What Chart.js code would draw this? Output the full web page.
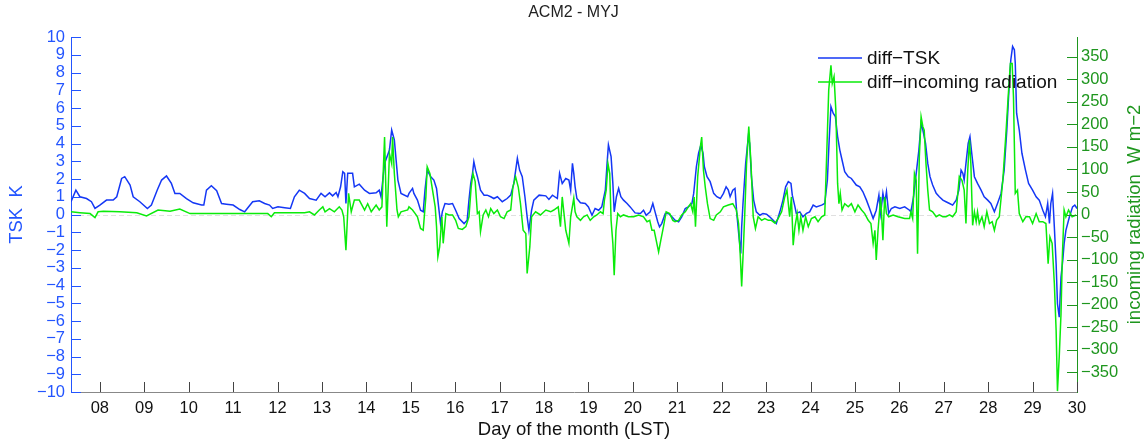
<!DOCTYPE html>
<html>
<head>
<meta charset="utf-8">
<title>ACM2 - MYJ</title>
<script src="https://cdn.jsdelivr.net/npm/chart.js@4.4.1/dist/chart.umd.min.js"></script>
<style>
  html, body { margin: 0; padding: 0; background: #fff; }
  #wrap { width: 1147px; height: 442px; }
</style>
</head>
<body>
<div id="wrap"><canvas id="g1" width="1147" height="442"></canvas></div>
<script>
// [day of month (LST), ACM2 minus MYJ skin temperature, K]
var tskDiff = [
  [7.35,0.72],[7.46,1.37],[7.55,1.00],[7.70,0.90],[7.81,0.72],[7.89,0.34],[8.00,0.53],[8.15,0.81],
  [8.30,0.81],[8.38,1.00],[8.49,2.03],[8.56,2.13],[8.68,1.66],[8.75,1.00],[8.90,0.72],[9.07,0.34],
  [9.16,0.53],[9.29,1.37],[9.39,1.94],[9.50,2.17],[9.61,1.75],[9.69,1.19],[9.80,1.19],[9.95,0.90],
  [10.10,0.66],[10.29,0.53],[10.34,0.53],[10.40,1.37],[10.51,1.62],[10.63,1.34],[10.74,0.62],[10.85,0.58],
  [11.00,0.53],[11.15,0.28],[11.26,0.15],[11.44,0.72],[11.59,0.77],[11.71,0.62],[11.82,0.53],[11.89,0.34],
  [12.01,0.43],[12.16,0.38],[12.29,0.34],[12.38,1.00],[12.49,1.37],[12.61,1.19],[12.72,0.90],[12.87,0.81],
  [12.98,1.19],[13.07,1.00],[13.17,1.22],[13.24,1.05],[13.32,1.24],[13.36,1.00],[13.42,1.56],[13.47,2.41],
  [13.51,2.32],[13.54,0.62],[13.58,2.32],[13.69,2.32],[13.73,1.56],[13.84,1.71],[13.96,1.37],[14.07,1.19],
  [14.22,1.22],[14.29,1.37],[14.33,1.00],[14.41,2.88],[14.52,3.63],[14.57,4.76],[14.63,4.20],[14.71,1.94],
  [14.78,1.19],[14.93,1.00],[14.96,1.19],[15.04,1.47],[15.07,1.19],[15.15,0.81],[15.22,0.24],[15.28,0.15],
  [15.32,1.37],[15.37,2.50],[15.45,2.13],[15.52,1.94],[15.58,1.47],[15.64,0.15],[15.67,-0.51],[15.71,0.15],
  [15.77,0.62],[15.86,0.58],[15.94,0.62],[16.01,0.24],[16.09,-0.23],[16.20,-0.51],[16.27,-0.32],[16.31,0.81],
  [16.35,1.75],[16.39,2.32],[16.42,2.98],[16.46,2.50],[16.50,2.13],[16.57,1.37],[16.65,1.09],[16.72,1.09],
  [16.80,1.00],[16.87,0.90],[16.95,1.00],[17.06,0.72],[17.17,0.90],[17.25,1.09],[17.32,1.75],[17.40,3.16],
  [17.45,2.50],[17.51,2.13],[17.57,1.00],[17.62,-0.13],[17.66,-0.89],[17.72,0.24],[17.77,0.81],[17.89,1.09],
  [18.04,1.05],[18.11,0.85],[18.19,1.09],[18.30,0.90],[18.35,2.32],[18.41,1.75],[18.49,2.03],[18.56,1.94],
  [18.60,1.37],[18.64,2.88],[18.67,2.32],[18.70,1.56],[18.74,0.90],[18.82,0.66],[18.93,0.62],[19.00,0.43],
  [19.08,-0.04],[19.15,0.34],[19.23,0.24],[19.30,0.43],[19.38,1.37],[19.42,2.88],[19.45,3.92],[19.51,3.26],
  [19.55,1.75],[19.58,0.15],[19.63,1.00],[19.68,1.47],[19.73,1.00],[19.79,0.81],[19.87,0.62],[19.94,0.43],
  [20.05,0.09],[20.17,0.06],[20.24,0.24],[20.30,-0.04],[20.39,0.15],[20.45,0.62],[20.50,0.15],[20.56,-0.41],
  [20.60,-0.70],[20.65,-0.51],[20.73,0.06],[20.80,0.06],[20.88,-0.13],[20.95,-0.32],[21.03,-0.41],[21.10,-0.13],
  [21.18,0.34],[21.25,0.43],[21.33,0.62],[21.37,1.19],[21.43,2.69],[21.48,3.45],[21.53,3.90],[21.58,3.45],
  [21.61,2.69],[21.67,2.13],[21.74,1.85],[21.82,1.19],[21.89,1.00],[21.97,0.90],[22.04,1.19],[22.10,1.56],
  [22.15,1.37],[22.19,1.00],[22.25,1.37],[22.30,1.47],[22.34,0.06],[22.39,-1.26],[22.43,-2.20],[22.45,-0.70],
  [22.48,0.62],[22.54,2.88],[22.60,4.39],[22.63,4.01],[22.67,2.13],[22.72,0.81],[22.78,0.15],[22.86,-0.04],
  [22.93,0.06],[23.01,0.02],[23.08,-0.13],[23.16,-0.32],[23.23,-0.51],[23.31,0.15],[23.38,0.81],[23.44,1.56],
  [23.50,1.85],[23.56,1.75],[23.59,1.09],[23.65,0.43],[23.68,0.06],[23.76,0.15],[23.83,-0.13],[23.91,0.06],
  [23.98,0.15],[24.06,0.53],[24.13,0.43],[24.25,0.53],[24.32,0.62],[24.38,1.94],[24.42,4.20],[24.46,6.08],
  [24.51,5.71],[24.56,5.52],[24.61,4.39],[24.66,3.63],[24.71,3.07],[24.77,2.41],[24.85,2.13],[24.92,2.03],
  [25.03,1.66],[25.11,1.56],[25.18,1.28],[25.26,0.81],[25.33,0.34],[25.41,-0.23],[25.48,0.24],[25.54,1.09],
  [25.58,0.06],[25.63,1.19],[25.67,0.62],[25.71,1.28],[25.76,0.06],[25.82,0.34],[25.90,0.43],[26.01,0.34],
  [26.12,0.43],[26.23,0.24],[26.26,0.15],[26.32,1.00],[26.38,2.32],[26.44,3.63],[26.49,5.14],[26.53,4.76],
  [26.59,4.01],[26.64,2.88],[26.69,2.13],[26.75,1.66],[26.83,1.19],[26.90,1.00],[26.98,0.81],[27.05,0.72],
  [27.13,0.62],[27.20,0.53],[27.28,0.81],[27.34,1.37],[27.39,2.50],[27.43,2.32],[27.46,1.94],[27.50,2.88],
  [27.55,4.01],[27.59,4.39],[27.63,3.45],[27.69,2.13],[27.76,1.75],[27.84,1.37],[27.91,1.00],[27.99,0.81],
  [28.06,0.62],[28.14,0.15],[28.21,0.62],[28.29,1.19],[28.36,2.50],[28.42,4.76],[28.48,7.59],[28.51,8.72],
  [28.55,9.47],[28.59,9.28],[28.61,8.53],[28.64,5.71],[28.70,4.76],[28.76,3.45],[28.84,2.50],[28.91,1.75],
  [29.00,1.37],[29.08,1.00],[29.15,0.81],[29.23,0.24],[29.29,-0.13],[29.34,0.62],[29.38,-0.51],[29.41,0.62],
  [29.45,1.19],[29.49,-0.70],[29.53,-2.77],[29.56,-5.03],[29.60,-5.78],[29.64,-3.52],[29.68,-2.58],[29.71,-1.64],
  [29.75,-0.89],[29.83,-0.13],[29.90,0.43],[29.95,0.53],[30.00,0.34]
];

// [day of month (LST), ACM2 minus MYJ incoming radiation, W m-2]
var radDiff = [
  [7.35,6],[7.55,4],[7.78,2],[7.89,-7],[7.96,6],[8.08,7],[8.45,6],[8.83,4],[9.05,-3],[9.31,10],
  [9.58,7],[9.80,12],[10.03,2],[10.33,2],[10.70,2],[11.15,2],[11.33,2],[11.78,2],[11.86,-5],[11.93,4],
  [12.61,4],[12.72,6],[12.83,-1],[12.94,10],[13.02,17],[13.07,6],[13.17,13],[13.28,6],[13.39,17],[13.45,10],
  [13.49,-5],[13.54,-79],[13.60,47],[13.66,6],[13.73,32],[13.84,32],[13.96,10],[14.03,24],[14.11,6],[14.22,21],
  [14.29,10],[14.35,17],[14.41,172],[14.46,-27],[14.52,135],[14.57,113],[14.59,172],[14.63,91],[14.69,10],[14.72,-5],
  [14.78,6],[14.93,10],[14.96,17],[15.04,10],[15.10,2],[15.15,-5],[15.22,-31],[15.28,-35],[15.34,39],[15.37,106],
  [15.43,91],[15.49,54],[15.55,17],[15.58,-27],[15.61,-94],[15.65,-72],[15.70,-5],[15.73,-64],[15.79,2],[15.86,-1],
  [15.94,-1],[16.01,-13],[16.07,-31],[16.16,-33],[16.24,-27],[16.31,-5],[16.36,61],[16.40,91],[16.45,73],[16.50,2],
  [16.54,6],[16.57,-38],[16.63,-1],[16.69,10],[16.75,-5],[16.80,13],[16.87,2],[16.95,10],[17.02,-5],[17.10,-9],
  [17.17,6],[17.25,10],[17.30,61],[17.36,84],[17.42,61],[17.47,24],[17.53,-35],[17.59,-42],[17.62,-131],[17.68,-72],
  [17.72,-5],[17.81,6],[17.92,-1],[18.04,10],[18.15,6],[18.22,10],[18.32,17],[18.37,-27],[18.41,39],[18.49,-35],
  [18.56,-64],[18.60,-5],[18.67,36],[18.70,6],[18.74,-5],[18.82,-13],[18.89,-5],[18.97,-1],[19.04,-13],[19.12,-5],
  [19.19,-1],[19.27,6],[19.33,2],[19.36,32],[19.40,54],[19.44,113],[19.48,91],[19.51,-13],[19.55,-64],[19.58,-135],
  [19.62,-35],[19.66,2],[19.72,-5],[19.79,-1],[19.90,-5],[20.02,-5],[20.13,-1],[20.24,-5],[20.32,-16],[20.38,-13],
  [20.43,-35],[20.48,-35],[20.54,-64],[20.58,-83],[20.63,-57],[20.69,-27],[20.75,6],[20.83,2],[20.90,-13],[20.95,-16],
  [21.03,-13],[21.10,-1],[21.18,6],[21.25,17],[21.30,24],[21.35,6],[21.38,39],[21.41,-27],[21.46,84],[21.52,150],
  [21.55,172],[21.59,98],[21.63,61],[21.68,24],[21.74,-9],[21.82,-13],[21.88,-1],[21.97,6],[22.04,17],[22.15,21],
  [22.25,24],[22.33,10],[22.38,-20],[22.42,-94],[22.45,-160],[22.48,-94],[22.52,2],[22.56,113],[22.61,195],[22.66,113],
  [22.71,-5],[22.76,-31],[22.82,-5],[22.90,-13],[22.97,-9],[23.05,-13],[23.12,-13],[23.20,-19],[23.27,-9],[23.35,6],
  [23.42,39],[23.47,54],[23.53,-5],[23.57,39],[23.61,-68],[23.65,-27],[23.70,2],[23.74,-35],[23.78,-5],[23.83,-35],
  [23.89,-5],[23.95,-27],[24.02,-9],[24.10,-5],[24.17,-16],[24.25,-5],[24.32,-1],[24.37,150],[24.41,276],[24.46,331],
  [24.49,291],[24.53,306],[24.57,232],[24.61,69],[24.64,24],[24.67,47],[24.71,10],[24.77,24],[24.85,17],[24.92,24],
  [25.00,6],[25.07,21],[25.15,10],[25.22,2],[25.30,-13],[25.36,-20],[25.41,-64],[25.45,-35],[25.48,-101],[25.52,-35],
  [25.58,39],[25.63,-57],[25.67,39],[25.71,2],[25.76,-5],[25.86,-1],[25.97,-5],[26.12,-9],[26.23,-9],[26.26,6],
  [26.30,-9],[26.34,91],[26.38,76],[26.41,-87],[26.45,128],[26.49,217],[26.53,195],[26.56,187],[26.60,113],[26.64,54],
  [26.68,10],[26.75,6],[26.83,-5],[26.90,-1],[26.98,-5],[27.05,-5],[27.13,-1],[27.20,-5],[27.28,6],[27.35,84],
  [27.41,76],[27.46,54],[27.50,-20],[27.54,98],[27.58,165],[27.61,113],[27.65,-24],[27.69,6],[27.73,-16],[27.76,6],
  [27.80,-20],[27.86,-5],[27.91,-27],[27.97,6],[28.03,-20],[28.09,-16],[28.14,-35],[28.19,-13],[28.25,-5],[28.33,76],
  [28.40,180],[28.46,276],[28.50,335],[28.54,335],[28.57,261],[28.61,47],[28.66,54],[28.70,2],[28.78,-16],[28.85,-5],
  [28.93,-5],[29.00,-20],[29.08,2],[29.15,-16],[29.23,-16],[29.30,-20],[29.35,-109],[29.39,-50],[29.44,-64],[29.49,-153],
  [29.53,-257],[29.56,-392],[29.60,-316],[29.64,-220],[29.67,-94],[29.71,10],[29.75,-5],[29.81,10],[29.89,-5],[29.98,-1]
];

var dayTicks = [8,9,10,11,12,13,14,15,16,17,18,19,20,21,22,23,24,25,26,27,28,29,30];
var dayLabels = ["08","09","10","11","12","13","14","15","16","17","18","19","20","21","22","23","24","25","26","27","28","29","30"];
var tskTicks = [-10,-9,-8,-7,-6,-5,-4,-3,-2,-1,0,1,2,3,4,5,6,7,8,9,10];
var radTicks = [-350,-300,-250,-200,-150,-100,-50,0,50,100,150,200,250,300,350];

var FONT = "'Liberation Sans', Arial, Helvetica, sans-serif";
var lineBlue = "rgb(20,55,245)";
var lineGreen = "rgb(10,235,10)";
var axisBlue = "rgb(35,85,255)";
var axisGreen = "rgb(30,150,30)";

function minus(v) {
  return v < 0 ? "\u2212" + Math.abs(v) : String(v);
}

function toPoints(rows) {
  return rows.map(function (r) { return { x: r[0], y: r[1] }; });
}

// inward tick marks, zero line, legend and the right-hand axis label
var axisExtras = {
  id: 'axisExtras',
  beforeDatasetsDraw: function (chart) {
    var c = chart.ctx, a = chart.chartArea;
    var y0 = Math.round(chart.scales.y.getPixelForValue(0)) + 0.5;
    c.save();
    c.strokeStyle = "rgba(0,0,0,0.12)";
    c.lineWidth = 1;
    c.setLineDash([5, 3]);
    c.beginPath();
    c.moveTo(a.left, y0);
    c.lineTo(a.right, y0);
    c.stroke();
    c.restore();
  },
  afterDraw: function (chart) {
    var c = chart.ctx, a = chart.chartArea;
    var sx = chart.scales.x, sy = chart.scales.y, sy2 = chart.scales.y2;
    c.save();
    c.lineWidth = 1;

    c.strokeStyle = "#444";
    dayTicks.forEach(function (d) {
      var px = Math.round(sx.getPixelForValue(d)) + 0.5;
      c.beginPath(); c.moveTo(px, a.bottom); c.lineTo(px, a.bottom - 10); c.stroke();
    });
    c.strokeStyle = axisBlue;
    tskTicks.forEach(function (v) {
      var py = Math.round(sy.getPixelForValue(v)) + 0.5;
      c.beginPath(); c.moveTo(a.left, py); c.lineTo(a.left + 10, py); c.stroke();
    });
    c.strokeStyle = axisGreen;
    radTicks.forEach(function (v) {
      var py = Math.round(sy2.getPixelForValue(v)) + 0.5;
      c.beginPath(); c.moveTo(a.right, py); c.lineTo(a.right - 10, py); c.stroke();
    });

    // legend, no frame
    var lx = a.right - 259, rows = [58, 82];
    c.font = "19px " + FONT;
    c.textBaseline = "middle";
    c.textAlign = "left";
    chart.data.datasets.forEach(function (ds, i) {
      c.strokeStyle = ds.borderColor;
      c.lineWidth = 1.5;
      c.beginPath(); c.moveTo(lx, rows[i]); c.lineTo(lx + 44, rows[i]); c.stroke();
      c.fillStyle = "#111";
      c.fillText(ds.label, lx + 49, rows[i] + 1);
    });

    // right axis label, reading bottom to top
    c.translate(1135, (a.top + a.bottom) / 2);
    c.rotate(-Math.PI / 2);
    c.textAlign = "center";
    c.fillStyle = axisGreen;
    c.font = "18.5px " + FONT;
    c.fillText("incoming radiation  W m\u22122", 0, 0);
    c.restore();
  }
};

var g1 = document.getElementById("g1").getContext('2d');
var myG1 = new Chart(g1, {
  type: 'line',
  data: {
    datasets: [{
      label: 'diff\u2212TSK',
      data: toPoints(tskDiff),
      yAxisID: 'y',
      borderColor: lineBlue,
      borderWidth: 1.5,
      pointRadius: 0,
      tension: 0,
      order: 2
    }, {
      label: 'diff\u2212incoming radiation',
      data: toPoints(radDiff),
      yAxisID: 'y2',
      borderColor: lineGreen,
      borderWidth: 1.5,
      pointRadius: 0,
      tension: 0,
      order: 1
    }]
  },
  options: {
    responsive: false,
    animation: false,
    layout: { padding: 0 },
    plugins: {
      legend: { display: false },
      tooltip: { enabled: false },
      title: {
        display: true,
        text: 'ACM2 - MYJ',
        color: '#222',
        font: { family: FONT, size: 16, weight: 'normal' },
        padding: { top: 3, bottom: 14.8 }
      }
    },
    scales: {
      x: {
        type: 'linear',
        min: 7.35,
        max: 30,
        afterBuildTicks: function (s) { s.ticks = dayTicks.map(function (v) { return { value: v }; }); },
        afterFit: function (s) { s.height = 50; },
        ticks: {
          autoSkip: false,
          maxRotation: 0,
          padding: 7,
          color: '#111',
          font: { family: FONT, size: 16.5 },
          callback: function (v) { return dayLabels[dayTicks.indexOf(v)]; }
        },
        grid: { display: false, drawTicks: false },
        border: { display: true, color: '#888', width: 1 },
        title: {
          display: true,
          text: 'Day of the month (LST)',
          color: '#111',
          font: { family: FONT, size: 18.5 },
          padding: { top: 0, bottom: 1 }
        }
      },
      y: {
        position: 'left',
        min: -10,
        max: 10,
        afterBuildTicks: function (s) { s.ticks = tskTicks.map(function (v) { return { value: v }; }); },
        afterFit: function (s) { s.width = 71; },
        ticks: {
          autoSkip: false,
          padding: 6,
          color: axisBlue,
          font: { family: FONT, size: 16.5 },
          callback: function (v) { return minus(v); }
        },
        grid: { display: false, drawTicks: false },
        border: { display: true, color: axisBlue, width: 1 },
        title: {
          display: true,
          text: 'TSK  K',
          color: axisBlue,
          font: { family: FONT, size: 18.5 },
          padding: { top: 6, bottom: 0 }
        }
      },
      y2: {
        position: 'right',
        min: -394,
        max: 394,
        afterBuildTicks: function (s) { s.ticks = radTicks.map(function (v) { return { value: v }; }); },
        afterFit: function (s) { s.width = 70; },
        ticks: {
          autoSkip: false,
          padding: 4,
          color: axisGreen,
          font: { family: FONT, size: 16.5 },
          callback: function (v) { return minus(v); }
        },
        grid: { display: false, drawTicks: false },
        border: { display: true, color: axisGreen, width: 1 }
      }
    }
  },
  plugins: [axisExtras]
});
</script>
</body>
</html>
